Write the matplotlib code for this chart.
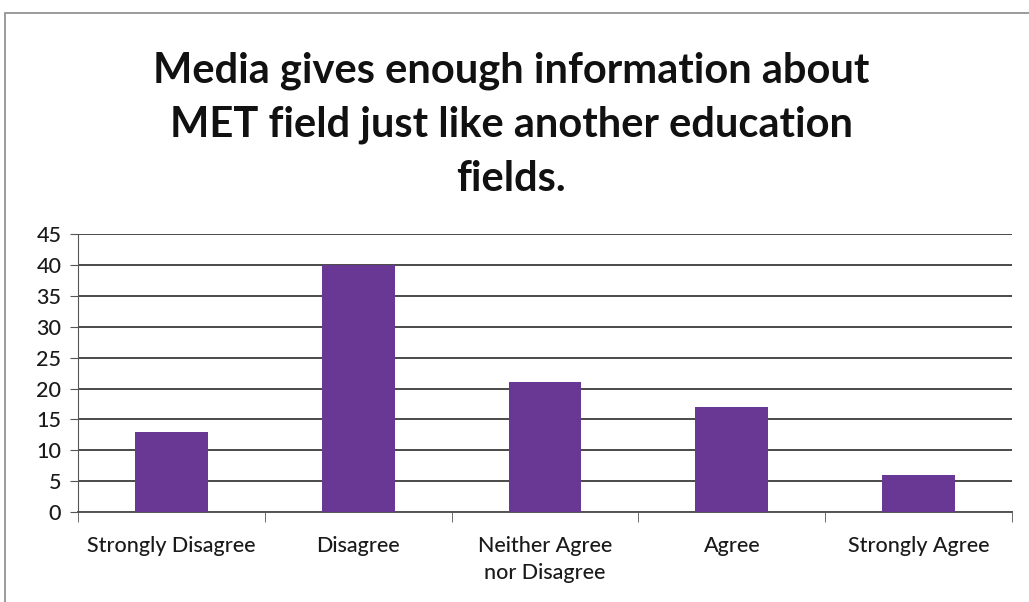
import matplotlib
matplotlib.use("Agg")
import matplotlib.pyplot as plt
from matplotlib.patches import Rectangle

categories = ["Strongly Disagree", "Disagree", "Neither Agree\nnor Disagree",
              "Agree", "Strongly Agree"]
responses = [13, 40, 21, 17, 6]
y_ticks = [0, 5, 10, 15, 20, 25, 30, 35, 40, 45]

title = "Media gives enough information about\nMET field just like another education\nfields."

plt.rcParams["font.family"] = ["Lato", "DejaVu Sans"]

fig = plt.figure(figsize=(10.29, 6.02), dpi=100)
ax = fig.add_axes([0.0758, 0.1495, 0.9077, 0.4615])

# chart frame
fig.patches.append(Rectangle((0.005, -0.1), 1.2, 1.078, transform=fig.transFigure,
                             fill=False, edgecolor="#8a8a8a", linewidth=1.2))

x = range(len(categories))
ax.bar(x, responses, width=0.39, color="#683894", zorder=3)

ax.set_xlim(-0.5, len(categories) - 0.5)
ax.set_ylim(0, 45)
ax.set_yticks(y_ticks)
ax.tick_params(axis="y", labelsize=15.5, length=6, color="#555555", pad=6)

ax.set_xticks(list(x))
ax.set_xticklabels(categories, fontsize=15.5, linespacing=1.45)
ax.tick_params(axis="x", length=0, pad=17)
# boundary ticks between categories
ax.set_xticks([i - 0.5 for i in range(len(categories) + 1)], minor=True)
ax.tick_params(axis="x", which="minor", length=7, color="#555555")

for lbl in ax.get_xticklabels() + ax.get_yticklabels():
    lbl.set_fontweight("medium")
    lbl.set_color("#1a1a1a")

ax.grid(axis="y", color="#4a4a4a", linewidth=1.4, zorder=0)
for side in ["top", "right"]:
    ax.spines[side].set_visible(False)
ax.spines["left"].set_color("#555555")
ax.spines["bottom"].set_color("#555555")
ax.spines["bottom"].set_linewidth(1.4)

fig.text(0.497, 0.915, title, ha="center", va="top", fontsize=30,
         fontweight="bold", linespacing=1.52, color="#111111")

fig.savefig("out.png", dpi=100)
